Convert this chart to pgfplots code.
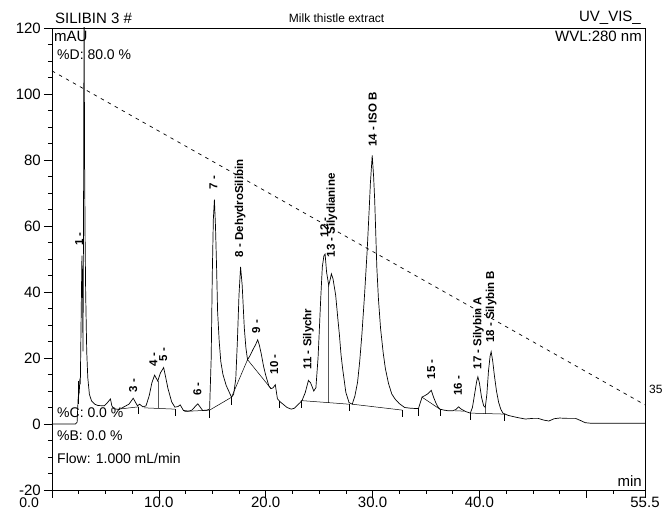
\documentclass[border=0pt]{standalone}
\usepackage{fontspec}
\setmainfont{Liberation Sans}
\usepackage{pgfplots}
\pgfplotsset{compat=1.18}
\begin{document}
\begin{tikzpicture}
\path[use as bounding box] (-52pt,-20pt) rectangle (613pt,490pt);
\begin{axis}[
  at={(0pt,0pt)}, anchor=south west,
  scale only axis, width=593pt, height=462pt,
  xmin=0, xmax=55.5, ymin=-20, ymax=120,
  axis line style={line width=0.8pt},
  xtick={0,10,20,30,40,50,55.5},
  xticklabels={,10.0,20.0,30.0,40.0,,55.5},
  minor xtick={2.5,5,7.5,12.5,15,17.5,22.5,25,27.5,32.5,35,37.5,42.5,45,47.5,52.5},
  ytick={-20,0,20,40,60,80,100,120},
  minor y tick num=3,
  tick align=outside,
  major tick length=8pt, minor tick length=4pt,
  tick pos=left,
  tick style={line width=0.6pt, black},
  ticklabel style={font=\fontsize{15}{15}\selectfont, inner sep=1pt},
  xticklabel style={yshift=2pt},
  yticklabel style={xshift=-2pt},
  /pgf/number format/assume math mode=true,
  clip mode=individual,
]
% chromatogram
\addplot[black, line width=0.7pt] coordinates {
(0,0) (2.2,0) (2.35,0.5) (2.45,8) (2.55,9.6) (2.6,13) (2.65,12) (2.72,30) (2.8,51) (2.86,40) (2.9,22) (2.95,60) (3.0,130) (3.05,80) (3.1,56) (3.15,40) (3.25,22) (3.35,14) (3.5,9) (3.7,7) (4.0,6) (4.3,5.6) (4.9,5.5) (5.2,6.5) (5.47,7.6) (5.6,5.5) (5.8,4.6) (6.3,4.4) (6.8,5.3) (7.2,6) (7.6,7.8) (8.0,5.5) (8.2,6) (8.5,5.2) (8.8,5.5) (9.1,8.6) (9.35,12.5) (9.6,14.8) (9.9,13) (10.15,15.5) (10.45,17.1) (10.65,14) (10.85,10.8) (11.2,6.7) (11.5,5.1) (11.8,5.3) (12.0,5.8) (12.3,4.1) (12.8,3.9) (13.1,4.2) (13.4,5.3) (13.65,6.1) (13.9,5) (14.1,4.1) (14.5,4.2) (14.75,4.5) (14.9,20) (15.0,45) (15.1,62) (15.2,68) (15.3,60) (15.4,48) (15.5,34) (15.65,25) (15.8,18.9) (16.0,15) (16.3,11.7) (16.8,8.1) (17.0,9) (17.2,13.7) (17.35,25) (17.5,39) (17.65,47.6) (17.8,42) (18.0,29) (18.15,23) (18.3,19.5) (18.5,20.5) (18.8,22.5) (19.05,24) (19.25,25.5) (19.4,24) (19.6,21) (19.8,17.5) (20.0,14.8) (20.3,11.5) (20.5,10.7) (20.7,11) (20.9,11.9) (21.1,7.6) (21.4,6.6) (21.7,5.8) (22.0,5) (22.4,4.5) (22.7,4.8) (22.9,5.5) (23.2,6.4) (23.4,7.1) (23.7,9.5) (24.0,13.2) (24.2,12.5) (24.5,10) (24.7,11) (24.9,20) (25.0,27) (25.15,38) (25.3,47.6) (25.45,51) (25.56,51.5) (25.7,46) (25.9,42) (26.05,44) (26.15,45.5) (26.3,44) (26.55,39) (26.75,32) (26.9,27) (27.05,21) (27.2,16.8) (27.5,9.6) (27.8,6.5) (28.1,6) (28.35,8.5) (28.6,12.7) (28.8,19) (29.0,27) (29.25,39) (29.5,52.7) (29.7,66) (29.8,73) (29.97,81.4) (30.1,75) (30.2,68) (30.3,58) (30.4,47.6) (30.55,38) (30.75,29) (31.0,21.5) (31.2,16.8) (31.5,12.2) (31.8,9.1) (32.1,7.6) (32.5,6.2) (33.0,5) (33.5,4.8) (34.0,4.7) (34.3,4.7) (34.5,6.8) (34.65,8.2) (34.9,8.6) (35.2,9.2) (35.5,10.2) (35.7,8.2) (35.9,6.6) (36.1,5.3) (36.3,4.5) (36.7,4.2) (37.1,4.0) (37.5,4.0) (37.8,4.4) (38.06,5.2) (38.3,4.5) (38.7,3.8) (39.15,3.3) (39.35,5) (39.55,9) (39.75,13) (39.86,14.3) (40.0,12.5) (40.2,8.1) (40.4,5.5) (40.55,5) (40.7,9) (40.85,16) (41.0,20.5) (41.1,21.9) (41.25,19) (41.4,14.8) (41.6,10) (41.8,6.6) (42.0,4.5) (42.2,3.3) (42.7,2.6) (43.5,2.0) (44.3,1.5) (45.0,1.7) (45.5,1.7) (46.0,1.2) (46.5,0.9) (47.0,1.6) (47.5,1.8) (48.3,1.7) (49.0,1.7) (49.5,1.0) (49.9,0.4) (50.5,0.2) (55.5,0.2)
};
% integration baselines and drop lines
\addplot[black, line width=0.5pt, unbounded coords=jump] coordinates {
(6.5,4.6) (8.1,5.2) (nan,nan)
(8.6,4.9) (11.5,4.5) (nan,nan)
(9.95,13) (9.95,4.7) (nan,nan)
(12.4,3.8) (14.75,4.2) (16.8,8.1) (18.3,19.5) (20.5,10.7) (nan,nan)
(23.3,7.1) (27.8,6.0) (nan,nan)
(25.9,42) (25.9,6.5) (nan,nan)
(28.1,6.0) (32.8,4.2) (nan,nan)
(34.6,8.2) (36.3,4.5) (nan,nan)
(37.7,4.0) (38.6,3.9) (nan,nan)
(39.15,3.3) (42.3,3.0) (nan,nan)
(40.55,5) (40.55,3.2)
};
% peak delimiter marks
\addplot[black, line width=0.5pt, unbounded coords=jump] coordinates {
(2.45,13) (2.45,6) (nan,nan)
(8.1,5.2) (8.1,3) (nan,nan)
(11.5,4.5) (11.5,2.3) (nan,nan)
(14.75,4.2) (14.75,1.8) (nan,nan)
(16.8,8.1) (16.8,5.8) (nan,nan)
(21.3,7) (21.3,4.8) (nan,nan)
(23.3,7.1) (23.3,4.9) (nan,nan)
(27.8,6.0) (27.8,3.8) (nan,nan)
(32.8,4.2) (32.8,2.0) (nan,nan)
(34.3,4.7) (34.3,2.5) (nan,nan)
(36.3,4.5) (36.3,2.3) (nan,nan)
(39.15,3.3) (39.15,1.1) (nan,nan)
(42.3,3.0) (42.3,0.8)
};
% gradient line
\addplot[black, line width=0.7pt, dash pattern=on 3.5pt off 4.5pt] coordinates {(0,107) (55.5,5.8)};

% peak labels
\begin{scope}[every node/.style={rotate=90, anchor=west, inner sep=0pt, font=\fontsize{11.5}{11.5}\bfseries}]
\node at (axis cs:2.55,54) {1 -};
\node at (axis cs:7.6,9.5) {3 -};
\node at (axis cs:9.5,17.5) {4 -};
\node at (axis cs:10.4,19) {5 -};
\node at (axis cs:13.6,8.5) {6 -};
\node at (axis cs:15.1,71) {7 -};
\node at (axis cs:17.6,50.5) {8 - DehydroSilibin};
\node at (axis cs:19.1,27.5) {9 -};
\node at (axis cs:20.8,15) {10 -};
\node at (axis cs:24.0,16.5) {11 - Silychr};
\node at (axis cs:25.5,56.5) {12 -};
\node at (axis cs:26.2,50.5) {13 - Silydianine};
\node at (axis cs:30.0,84) {14 - ISO B};
\node at (axis cs:35.5,13.5) {15 -};
\node at (axis cs:38.0,8.5) {16 -};
\node at (axis cs:39.9,16.5) {17 - Silybin A};
\node at (axis cs:41.1,24.5) {18 - Silybin B};
\end{scope}

% texts
\node[anchor=south west, inner sep=0pt, font=\fontsize{15}{15}\selectfont] at (rel axis cs:0,1) [xshift=3pt, yshift=4pt] {SILIBIN 3 \#};
\node[anchor=south, inner sep=0pt, font=\fontsize{12}{12}\selectfont] at (rel axis cs:0.48,1) [yshift=5pt] {Milk thistle extract};
\node[anchor=south east, inner sep=0pt, font=\fontsize{15}{15}\selectfont] at (rel axis cs:1,1) [xshift=-4pt, yshift=3pt] {UV\_VIS\_};
\node[anchor=north west, inner sep=0pt, font=\fontsize{15}{15}\selectfont] at (rel axis cs:0,1) [xshift=2pt, yshift=-3pt] {mAU};
\node[anchor=north west, inner sep=0pt, font=\fontsize{14}{14}\selectfont] at (rel axis cs:0,1) [xshift=5pt, yshift=-22pt] {\%D: 80.0 \%};
\node[anchor=north east, inner sep=0pt, font=\fontsize{15}{15}\selectfont] at (rel axis cs:1,1) [xshift=-3pt, yshift=-3pt] {WVL:280 nm};
\node[anchor=west, inner sep=0pt, font=\fontsize{14}{14}\selectfont] at (axis cs:0,3.3) [xshift=5pt] {\%C: 0.0 \%};
\node[anchor=west, inner sep=0pt, font=\fontsize{14}{14}\selectfont] at (axis cs:0,-3.5) [xshift=5pt] {\%B: 0.0 \%};
\node[anchor=west, inner sep=0pt, font=\fontsize{14}{14}\selectfont] at (axis cs:0,-10.5) [xshift=5pt] {Flow: 1.000 mL/min};
\node[anchor=south east, inner sep=0pt, font=\fontsize{15}{15}\selectfont] at (rel axis cs:1,0) [xshift=-3pt, yshift=3pt] {min};
\node[anchor=west, inner sep=0pt, font=\fontsize{12}{12}\selectfont] at (axis cs:55.5,10.5) [xshift=4pt] {35};
\node[anchor=north east, inner sep=0pt, font=\fontsize{14}{14}\selectfont] at (axis cs:0,-20) [xshift=-13pt, yshift=-8pt] {0.0};
\end{axis}
\end{tikzpicture}
\end{document}
